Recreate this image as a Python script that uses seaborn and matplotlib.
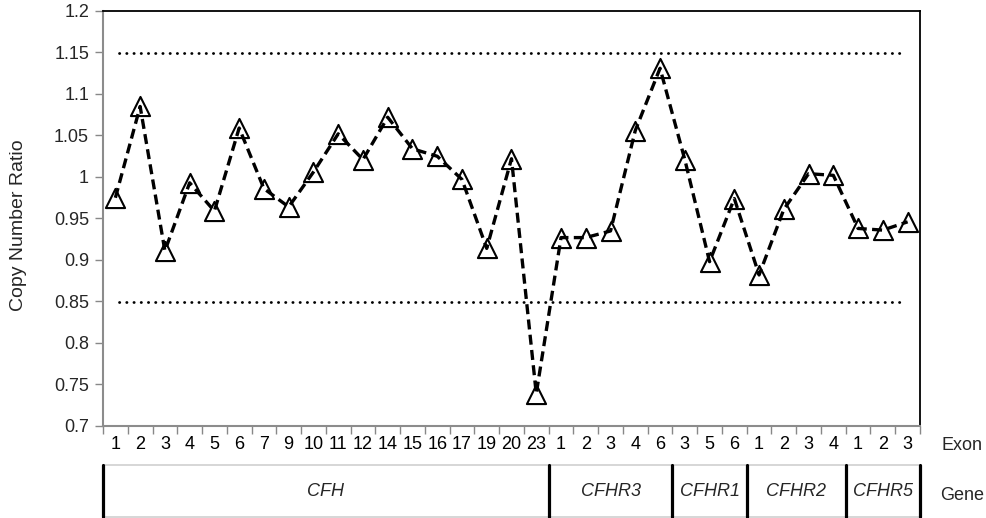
import matplotlib
matplotlib.use("Agg")
import matplotlib.pyplot as plt
import seaborn as sns
import pandas as pd
import numpy as np

sns.set_theme(style="white")
plt.rcParams['font.family'] = ['Liberation Sans', 'DejaVu Sans']

genes = ["CFH", "CFHR3", "CFHR1", "CFHR2", "CFHR5"]
exons = {
    "CFH": ["1", "2", "3", "4", "5", "6", "7", "9", "10", "11", "12", "14", "15", "16", "17", "19", "20", "23"],
    "CFHR3": ["1", "2", "3", "4", "6"],
    "CFHR1": ["3", "5", "6"],
    "CFHR2": ["1", "2", "3", "4"],
    "CFHR5": ["1", "2", "3"],
}
ratio_cfh = [0.975, 1.085, 0.911, 0.993, 0.959, 1.059, 0.986, 0.964, 1.006, 1.052,
             1.021, 1.072, 1.034, 1.025, 0.997, 0.914, 1.022, 0.739]
ratio_cfhr3 = [0.927, 0.927, 0.935, 1.056, 1.131]
ratio_cfhr1 = [1.021, 0.898, 0.974]
ratio_cfhr2 = [0.882, 0.961, 1.004, 1.002]
ratio_cfhr5 = [0.938, 0.936, 0.946]
thresholds = [1.15, 0.85]

ratios = ratio_cfh + ratio_cfhr3 + ratio_cfhr1 + ratio_cfhr2 + ratio_cfhr5
exon_labels = [e for g in genes for e in exons[g]]
gene_of = [g for g in genes for _ in exons[g]]
df = pd.DataFrame({"pos": np.arange(len(ratios)), "ratio": ratios,
                   "exon": exon_labels, "gene": gene_of})
n = len(df)

FS = 13
W, H = 987, 518
fig = plt.figure(figsize=(W / 100, H / 100), dpi=100)
L, R, T, B = 103, 920, 11, 426
ax = fig.add_axes([L / W, 1 - B / H, (R - L) / W, (B - T) / H])

# markers
sns.scatterplot(data=df, x="pos", y="ratio", marker="^", s=190, color="white",
                edgecolor="black", linewidth=1.5, ax=ax, zorder=3, legend=False)
# dashed line on top
sns.lineplot(data=df, x="pos", y="ratio", color="black", ax=ax, zorder=4,
             linewidth=2.4, dashes=False, legend=False)
ax.lines[-1].set_dashes((3, 1.6))

for t in thresholds:
    ax.plot([0.15, n - 1 - 0.1], [t, t], color="black", linewidth=2.0,
            linestyle=(0, (0.1, 2.5)), dash_capstyle="round", zorder=2)

ax.set_xlim(-0.5, n - 0.5)
ax.set_ylim(0.7, 1.2)
ax.set_yticks(np.arange(0.7, 1.2001, 0.05))
ax.set_yticklabels(["0.7", "0.75", "0.8", "0.85", "0.9", "0.95", "1", "1.05", "1.1", "1.15", "1.2"],
                   fontsize=FS)
ax.set_xticks(np.arange(-0.5, n, 1.0))
ax.set_xticklabels([])
ax.tick_params(axis="x", which="major", length=6, width=1, color="#888888", direction="out", bottom=True)
ax.tick_params(axis="y", which="major", length=6, width=1, color="#888888", direction="out", left=True, pad=4)
ax.set_xlabel("")
ax.set_ylabel("Copy Number Ratio", fontsize=14)
ax.yaxis.set_label_coords(-0.093, 0.485)
for side in ["left", "bottom"]:
    ax.spines[side].set_color("#8c8c8c")
    ax.spines[side].set_linewidth(1.5)
for side in ["top", "right"]:
    ax.spines[side].set_color("black")
    ax.spines[side].set_linewidth(1.3)

for i, e in enumerate(exon_labels):
    ax.text(i, -0.045, e, transform=ax.get_xaxis_transform(), ha="center", va="center",
            fontsize=FS, color="black")
ax.text(962 / W, 1 - 445 / H, "Exon", transform=fig.transFigure, ha="center", va="center",
        fontsize=FS)

# gene box
gax = fig.add_axes([L / W, 1 - 517 / H, (924 - L) / W, (517 - 465) / H])
gax.set_xlim(-0.5, -0.5 + (924 - L) / (R - L) * n)
gax.set_ylim(0, 1)
gax.axis("off")
gax.plot([-0.5, n - 0.5], [1, 1], color="#d0d0d0", linewidth=1.2, clip_on=False)
gax.plot([-0.5, n - 0.5], [0, 0], color="#d0d0d0", linewidth=1.2, clip_on=False)
start = 0
for gi, g in enumerate(genes):
    cnt = len(exons[g])
    gax.text(start + (cnt - 1) / 2, 0.5, g, ha="center", va="center", fontsize=FS, style="italic")
    if gi == 0:
        gax.plot([start - 0.5, start - 0.5], [0, 1], color="black", linewidth=2.3, clip_on=False)
    gax.plot([start + cnt - 0.5, start + cnt - 0.5], [0, 1], color="black",
             linewidth=2.3, clip_on=False)
    start += cnt
fig.text(962 / W, 1 - 495 / H, "Gene", ha="center", va="center", fontsize=FS)

fig.savefig("out.png", dpi=100)
